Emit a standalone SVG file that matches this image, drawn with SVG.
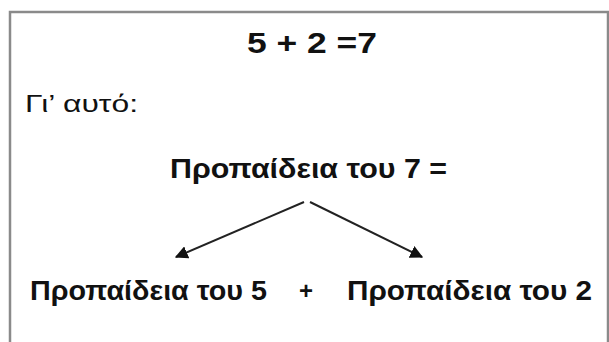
<svg xmlns="http://www.w3.org/2000/svg" width="609" height="342" viewBox="0 0 609 342">
<defs>
<style>
text { font-family: "Liberation Sans", "DejaVu Sans", sans-serif; fill: #111; }
.b { font-weight: bold; }
.frame { fill: #fff; stroke: #8a8a8a; stroke-width: 2.5; }
.conn { stroke: #222; stroke-width: 2; fill: none; }
</style>
<marker id="ah" viewBox="0 0 10 10" refX="9" refY="5" markerWidth="6.5" markerHeight="6.5" orient="auto" markerUnits="strokeWidth">
<path d="M0,0 L10,5 L0,10 z" fill="#111"/>
</marker>
</defs>
<rect width="609" height="342" fill="#fff"/>
<rect class="frame" x="10" y="12" width="598" height="345"/>
<g id="equation"><text class="b" x="247" y="53" font-size="29" textLength="130" lengthAdjust="spacingAndGlyphs">5 + 2 =7</text></g>
<g id="therefore"><text x="25" y="112" font-size="23" textLength="113" lengthAdjust="spacingAndGlyphs">Γι’ αυτό:</text></g>
<g id="table7"><text class="b" x="170" y="178" font-size="28" textLength="277" lengthAdjust="spacingAndGlyphs">Προπαίδεια του 7 =</text></g>
<g id="table5"><text class="b" x="30" y="300" font-size="28" textLength="237" lengthAdjust="spacingAndGlyphs">Προπαίδεια του 5</text></g>
<g id="plus"><text class="b" x="306" y="299" font-size="24" text-anchor="middle">+</text></g>
<g id="table2"><text class="b" x="347" y="300" font-size="28" textLength="245" lengthAdjust="spacingAndGlyphs">Προπαίδεια του 2</text></g>
<g id="connectors">
<line class="conn" x1="304" y1="202" x2="176" y2="257" marker-end="url(#ah)"/>
<line class="conn" x1="310" y1="202" x2="422" y2="257" marker-end="url(#ah)"/>
</g>
</svg>
